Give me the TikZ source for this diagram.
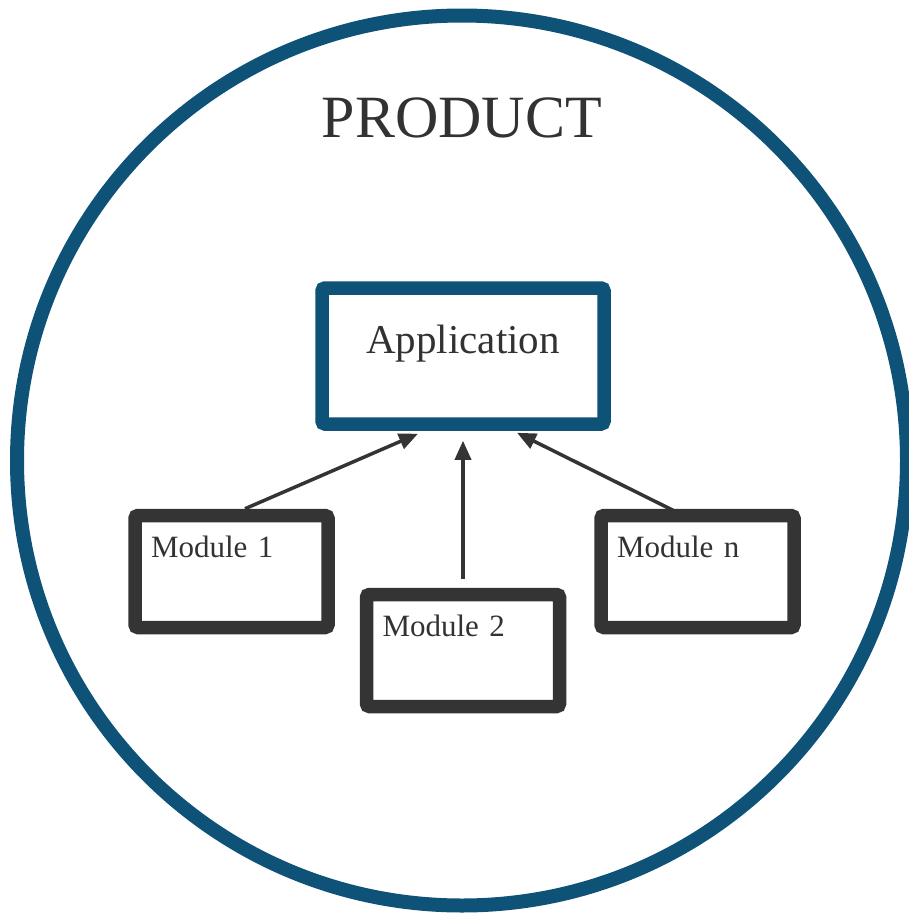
\documentclass[tikz,border=0pt]{standalone}
\usepackage{fontspec}
\setmainfont{Liberation Serif}
\usepackage{tikz}
\usetikzlibrary {arrows.meta,
                 positioning}
\definecolor{prodblue}{RGB}{14,82,120}
\definecolor{boxgray}{RGB}{52,52,52}
\definecolor{txtgray}{RGB}{50,50,50}
\tikzset{
        ring/.style={circle, draw=prodblue, line width=14pt, inner sep=0pt,
                     minimum size=890pt},
        title/.style={anchor=base, text=txtgray,
                      font=\fontsize{60}{60}\selectfont},
        appbox/.style={draw=prodblue, line width=13.5pt, rounded corners=3pt,
                       minimum width=282pt, minimum height=136pt,
                       inner ysep=0pt, text height=65pt, text depth=71pt,
                       text=txtgray, font=\fontsize{41}{41}\selectfont},
        modbox/.style={draw=boxgray, line width=13.5pt, rounded corners=3pt,
                       minimum height=112pt, text width=161pt, align=left,
                       inner xsep=16pt, inner ysep=0pt,
                       text height=42pt, text depth=70pt,
                       text=txtgray, font=\fontsize{31}{31}\selectfont},
        myarrow/.style={-{Triangle[length=19pt, width=16pt]},
                        draw=boxgray, line width=3.5pt},
 }
\begin{document}
\begin{tikzpicture}[x=1pt, y=-1pt]
    \useasboundingbox (0,0) rectangle (909,916);

    \node[ring] (prod) at (462,460.5) {};
    \node[title] (prodname) at (462,137) {PRODUCT};

    \node[appbox] (app) at (463,356) {Application};

    \node[modbox, below=157pt of app] (m2) {Module 2};
    \node[modbox, left=25pt of m2, yshift=79pt] (m1) {Module 1};
    \node[modbox, right=28pt of m2, yshift=79pt] (mn) {Module n};

    \draw[myarrow] ([xshift=13.5pt]m1.north) -- ([xshift=-45pt, yshift=-3pt]app.south);
    \draw[myarrow] ([yshift=9pt]m2.north) -- ([yshift=-10pt]app.south);
    \draw[myarrow] ([xshift=-15.5pt, yshift=-6pt]mn.north) -- ([xshift=54pt, yshift=-2pt]app.south);
\end{tikzpicture}
\end{document}
